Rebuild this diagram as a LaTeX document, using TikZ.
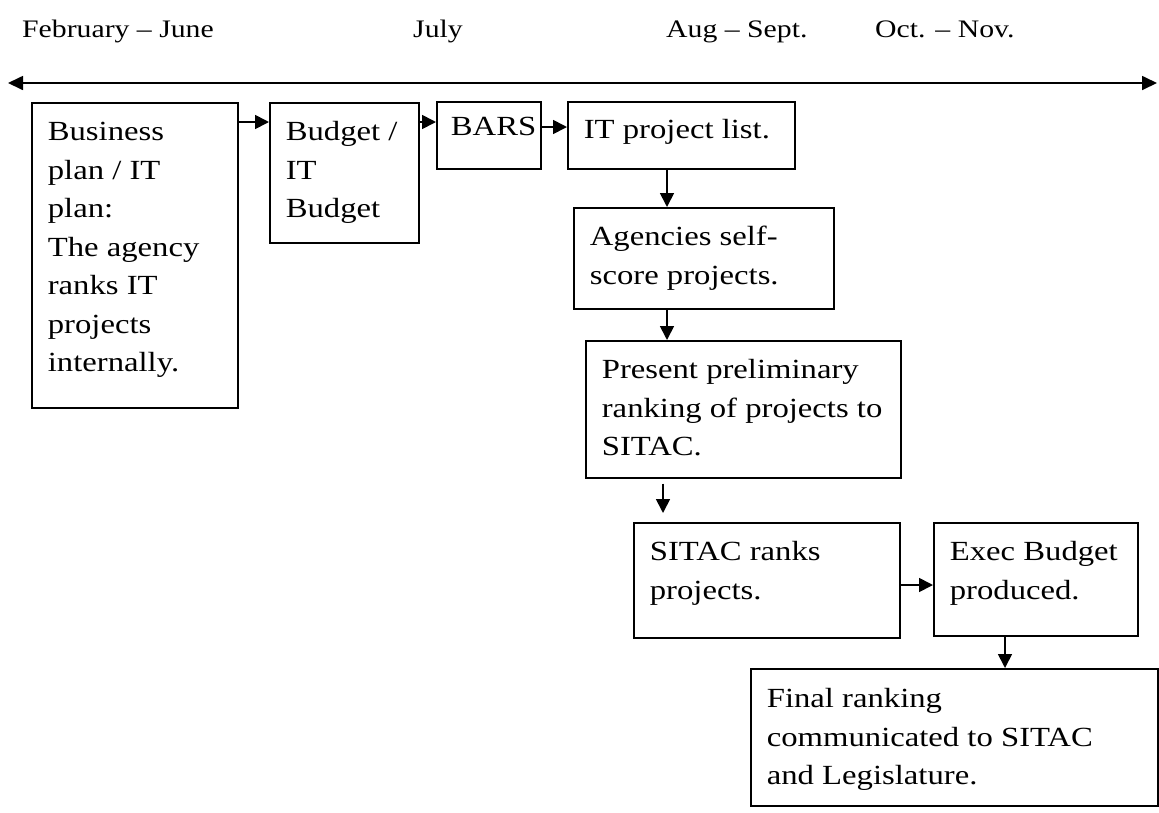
\documentclass[tikz,border=0pt]{standalone}
\usepackage{fontspec}
\setmainfont{Liberation Serif}[FakeStretch=1.18]
\usetikzlibrary{arrows.meta}
\newcommand\boxtxt[4]{\parbox[b][#2pt][t]{#1pt}{\fontsize{27.7}{38.5}\selectfont\leftskip=16pt\parindent=0pt\vspace*{\dimexpr#3pt-20pt\relax}\rule{0pt}{20pt}#4\par}}
\tikzset{
  bx/.style={draw, line width=1.7pt, inner sep=0pt, anchor=north west},
  arr/.style={line width=1.7pt, -{Triangle[length=14pt,width=14pt]}},
  lbl/.style={anchor=base west, inner sep=0pt, font=\fontsize{25.2}{30}\selectfont}
}
\begin{document}
\begin{tikzpicture}[x=1pt,y=-1pt]
\useasboundingbox (0,0) rectangle (1159,812);
% month labels
\node[lbl] (m1) at (22,37) {February – June};
\node[lbl] (m2) at (413,37) {July};
\node[lbl] (m3) at (666,37) {Aug – Sept.};
\node[lbl] (m4) at (875,37) {Oct. – Nov.};
% timeline
\coordinate (tl) at (8,83);
\coordinate (tr) at (1157,83);
\draw[line width=1.7pt, {Triangle[length=15pt,width=14pt]}-{Triangle[length=15pt,width=14pt]}] (tl) -- (tr);
% boxes
\node[bx] (b1) at (31,102) {\boxtxt{206}{305}{38}{\mbox{Business}\\\mbox{plan / IT}\\\mbox{plan:}\\\mbox{The agency}\\\mbox{ranks IT}\\\mbox{projects}\\\mbox{internally.}}};
\node[bx] (b2) at (269,102) {\boxtxt{149}{140}{38}{\mbox{Budget /}\\\mbox{IT}\\\mbox{Budget}}};
\node[bx] (b3) at (436,101) {\boxtxt{104}{67}{34}{\hspace*{-2pt}\mbox{BARS}}};
\node[bx] (b4) at (567,101) {\boxtxt{227}{67}{37}{\mbox{IT project list.}}};
\node[bx] (b5) at (573,207) {\boxtxt{260}{101}{38}{\mbox{Agencies self-}\\\mbox{score projects.}}};
\node[bx] (b6) at (585,340) {\boxtxt{315}{137}{38}{\mbox{Present preliminary}\\\mbox{ranking of projects to}\\\mbox{SITAC.}}};
\node[bx] (b7) at (633,522) {\boxtxt{266}{115}{38}{\mbox{SITAC ranks}\\\mbox{projects.}}};
\node[bx] (b8) at (933,522) {\boxtxt{204}{113}{38}{\mbox{Exec Budget}\\\mbox{produced.}}};
\node[bx] (b9) at (750,668) {\boxtxt{407}{137}{39}{\mbox{Final ranking}\\\mbox{communicated to SITAC}\\\mbox{and Legislature.}}};
% connector guide coordinates
\coordinate (r12) at (0,122);
\coordinate (r34) at (0,127);
\coordinate (r78) at (0,585);
\coordinate (c45) at (667,0);
\coordinate (c67) at (663,0);
\coordinate (c89) at (1005,0);
% connectors
\draw[arr] (b1.east |- r12) -- (b2.west |- r12);
\draw[arr] (b2.east |- r12) -- (b3.west |- r12);
\draw[arr] (b3.east |- r34) -- (b4.west |- r34);
\draw[arr] (b4.south -| c45) -- (b5.north -| c45);
\draw[arr] (b5.south -| c45) -- (b6.north -| c45);
\draw[arr, shorten <=5pt, shorten >=9pt] (b6.south -| c67) -- (b7.north -| c67);
\draw[arr] (b7.east |- r78) -- (b8.west |- r78);
\draw[arr] (b8.south -| c89) -- (b9.north -| c89);
\end{tikzpicture}
\end{document}
